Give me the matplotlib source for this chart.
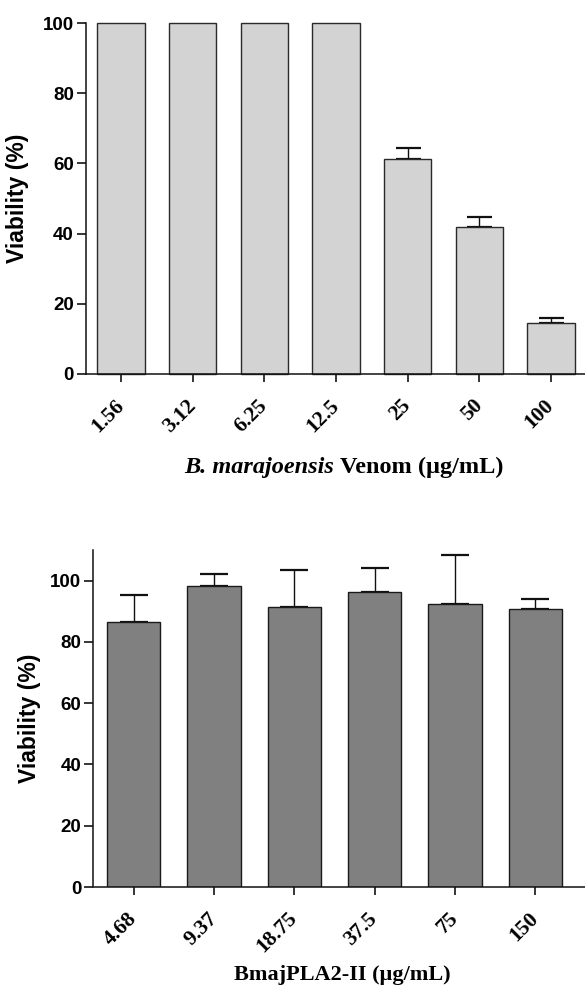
import matplotlib
matplotlib.use("Agg")
import matplotlib.pyplot as plt
import numpy as np

# Top panel: B. marajoensis venom
venom_conc = ["1.56", "3.12", "6.25", "12.5", "25", "50", "100"]
venom_viab = [100, 100, 100, 100, 61.2, 41.9, 14.6]
venom_err = [0, 0, 0, 0, 3.2, 2.9, 1.3]

# Bottom panel: BmajPLA2-II
pla_conc = ["4.68", "9.37", "18.75", "37.5", "75", "150"]
pla_viab = [86.6, 98.1, 91.5, 96.2, 92.3, 90.9]
pla_err = [8.8, 4.2, 12.1, 8.0, 16.0, 3.1]

W, H = 585, 996
fig = plt.figure(figsize=(W / 100, H / 100), dpi=100)

sans = ["Liberation Sans", "DejaVu Sans"]
serif = ["Liberation Serif", "DejaVu Serif"]


def style_axes(ax, ylim, yticks, xlim):
    ax.set_xlim(*xlim)
    ax.set_ylim(*ylim)
    ax.set_yticks(yticks)
    for s in ["top", "right"]:
        ax.spines[s].set_visible(False)
    for s in ["left", "bottom"]:
        ax.spines[s].set_linewidth(1.1)
        ax.spines[s].set_color("#111111")
    ax.tick_params(axis="y", direction="out", length=6.7, width=1.1, pad=2,
                   labelsize=13.5)
    ax.tick_params(axis="x", direction="out", length=5.5, width=1.1, pad=15)
    for lab in ax.get_yticklabels():
        lab.set_fontfamily(sans)
        lab.set_fontweight("bold")


# ---------- top ----------
ax1 = fig.add_axes([86 / W, 1 - 374 / H, (W - 86) / W, (374 - 23) / H])
x1 = np.arange(len(venom_conc))
ax1.bar(x1, venom_viab, width=0.66, color="#d3d3d3", edgecolor="#2a2a2a",
        linewidth=1.0, zorder=2, clip_on=False)
err_idx = [i for i, e in enumerate(venom_err) if e > 0]
ax1.errorbar(x1[err_idx], np.array(venom_viab)[err_idx],
             yerr=[np.zeros(len(err_idx)), np.array(venom_err)[err_idx]],
             fmt="none", ecolor="#111111", elinewidth=1.0, capsize=9,
             capthick=1.6, zorder=1)
style_axes(ax1, (0, 100), [0, 20, 40, 60, 80, 100], (-0.49, 6.475))
ax1.set_xticks(x1)
ax1.set_xticklabels(venom_conc, rotation=45, ha="right", va="center",
                    rotation_mode="anchor", fontfamily=serif,
                    fontweight="bold", fontsize=15.5)
ax1.set_ylabel("Viability (%)", fontfamily=sans, fontweight="bold",
               fontsize=16.5)
ax1.yaxis.set_label_coords(-(86 - 29) / (W - 86), 0.5)

# composed x label: bold italic part + bold part, centred as a whole
renderer = fig.canvas.get_renderer()
ylab_y = 1 - 467 / H
ta = fig.text(0, ylab_y, "B. marajoensis", fontfamily=serif,
              fontweight="bold", fontstyle="italic", fontsize=17.5,
              ha="left", va="center")
tb = fig.text(0, ylab_y, "Venom (µg/mL)", fontfamily=serif,
              fontweight="bold", fontsize=17.5, ha="left", va="center")
wa = ta.get_window_extent(renderer=renderer).width
wb = tb.get_window_extent(renderer=renderer).width
gap = 6
total = wa + gap + wb
x0 = 344 - total / 2
ta.set_x(x0 / W)
tb.set_x((x0 + wa + gap) / W)

# ---------- bottom ----------
ax2 = fig.add_axes([93.5 / W, 1 - 887 / H, (W - 93.5) / W, (887 - 550) / H])
x2 = np.arange(len(pla_conc))
ax2.bar(x2, pla_viab, width=0.665, color="#808080", edgecolor="#1a1a1a",
        linewidth=1.0, zorder=2)
ax2.errorbar(x2, pla_viab, yerr=[np.zeros(len(pla_err)), pla_err],
             fmt="none", ecolor="#111111", elinewidth=1.0, capsize=10,
             capthick=1.6, zorder=1)
style_axes(ax2, (0, 110), [0, 20, 40, 60, 80, 100], (-0.5, 5.62))
ax2.set_xticks(x2)
ax2.set_xticklabels(pla_conc, rotation=45, ha="right", va="center",
                    rotation_mode="anchor", fontfamily=serif,
                    fontweight="bold", fontsize=15.5)
ax2.set_ylabel("Viability (%)", fontfamily=sans, fontweight="bold",
               fontsize=16.5)
ax2.yaxis.set_label_coords(-(93.5 - 41) / (W - 93.5), 0.5)
fig.text(342 / W, 1 - 975 / H, "BmajPLA2-II (µg/mL)", fontfamily=serif,
         fontweight="bold", fontsize=16, ha="center", va="center")

fig.savefig("out.png", dpi=100)
